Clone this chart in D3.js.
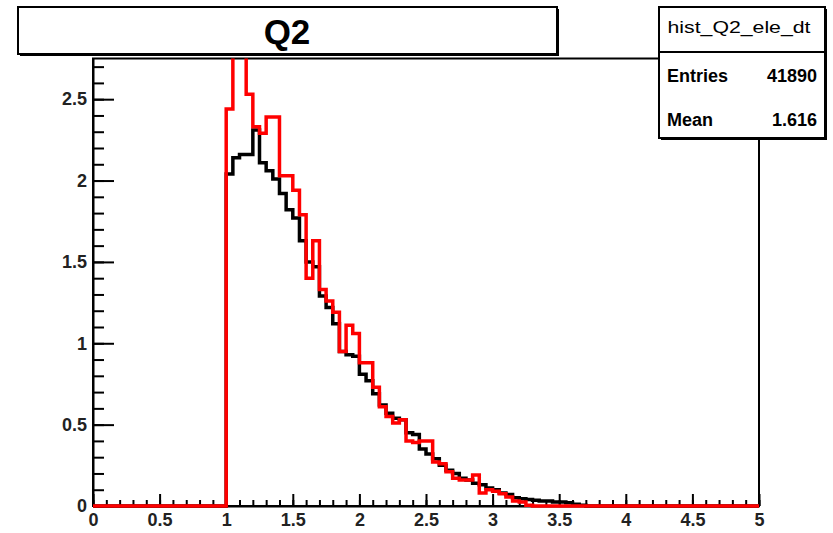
<!DOCTYPE html>
<html>
<head>
<meta charset="utf-8">
<script src="https://d3js.org/d3.v7.min.js"></script>
<style>
  body { margin: 0; background: #fff; }
  svg { display: block; font-family: "Liberation Sans", Arial, sans-serif; }
</style>
</head>
<body>
<div id="chart"></div>
<script>
// histogram Q2, bins of 0.05 from 0 to 5, non-zero part starts at 1.0
const xMin = 0, xMax = 5, binWidth = 0.05, firstBin = 1.0;

const blackCounts = [
  2.04, 2.14, 2.16, 2.16, 2.31, 2.11, 2.06, 2.01, 1.92, 1.82,
  1.77, 1.63, 1.50, 1.47, 1.29, 1.22, 1.12, 0.95, 0.93, 0.92,
  0.81, 0.77, 0.69, 0.62, 0.57, 0.54, 0.53, 0.45, 0.44, 0.35,
  0.32, 0.29, 0.25, 0.22, 0.20, 0.17, 0.16, 0.14, 0.13, 0.11,
  0.10, 0.08, 0.07, 0.05, 0.045, 0.04, 0.035, 0.03, 0.03, 0.025,
  0.025, 0.02, 0.01, 0.005
];
const redCounts = [
  2.44, 2.95, 2.90, 2.53, 2.33, 2.29, 2.39, 2.39, 2.03, 2.03,
  1.94, 1.79, 1.40, 1.63, 1.33, 1.26, 1.19, 0.95, 1.11, 1.06,
  0.88, 0.88, 0.73, 0.61, 0.55, 0.51, 0.53, 0.40, 0.39, 0.40,
  0.40, 0.27, 0.26, 0.21, 0.17, 0.16, 0.16, 0.19, 0.08, 0.10,
  0.09, 0.075, 0.055, 0.03, 0.025, 0.005
];

const xTicks = [0, 0.5, 1, 1.5, 2, 2.5, 3, 3.5, 4, 4.5, 5];
const xTickLabels = ["0", "0.5", "1", "1.5", "2", "2.5", "3", "3.5", "4", "4.5", "5"];
const yTicks = [0, 0.5, 1, 1.5, 2, 2.5];
const yTickLabels = ["0", "0.5", "1", "1.5", "2", "2.5"];
const yMax = 2.75;

const titleText = "Q2";
const statsName = "hist_Q2_ele_dt";
const statsRows = [["Entries", "41890"], ["Mean", "1.616"]];

const W = 833, H = 533;
const padL = 93, padR = 759, padT = 58.5, padB = 506;

const svg = d3.select("#chart").append("svg")
  .attr("width", W).attr("height", H);

const x = d3.scaleLinear().domain([xMin, xMax]).range([padL, padR]);
const y = d3.scaleLinear().domain([0, yMax]).range([padB, padT]);

// full step outline from xMin to xMax
function steps(counts) {
  const n = Math.round((xMax - xMin) / binWidth);
  const start = Math.round((firstBin - xMin) / binWidth);
  const pts = [];
  for (let i = 0; i < n; i++) {
    const j = i - start;
    const v = (j >= 0 && j < counts.length) ? counts[j] : 0;
    pts.push([xMin + i * binWidth, v]);
  }
  pts.push([xMax, pts[pts.length - 1][1]]);
  return pts;
}

svg.append("clipPath").attr("id", "plotclip")
  .append("rect")
  .attr("x", padL - 2).attr("y", padT)
  .attr("width", padR - padL + 4).attr("height", padB - padT + 3);

const line = d3.line()
  .x(d => x(d[0]))
  .y(d => y(d[1]))
  .curve(d3.curveStepAfter);

// frame
svg.append("rect")
  .attr("x", padL).attr("y", padT)
  .attr("width", padR - padL).attr("height", padB - padT)
  .attr("fill", "none").attr("stroke", "#000").attr("stroke-width", 2);

// minor + major ticks
svg.append("g")
  .attr("transform", `translate(${padL},0)`)
  .call(d3.axisLeft(y).tickValues(d3.range(0, 28).map(i => i / 10)).tickSize(-11).tickSizeOuter(0).tickFormat(""))
  .call(g => g.select(".domain").remove())
  .selectAll("line").attr("stroke-width", 2);

svg.append("g")
  .attr("transform", `translate(${padL},0)`)
  .call(d3.axisLeft(y).tickValues(yTicks).tickSize(-21).tickSizeOuter(0).tickPadding(6)
    .tickFormat((d, i) => yTickLabels[i]))
  .call(g => g.select(".domain").attr("stroke-width", 2))
  .call(g => g.selectAll("line").attr("stroke-width", 2))
  .call(g => g.selectAll("text").attr("font-size", 18).attr("font-weight", "bold").attr("fill", "#222")
    .attr("font-family", "Liberation Sans, Arial, sans-serif"));

svg.append("g")
  .attr("transform", `translate(0,${padB})`)
  .call(d3.axisBottom(x).tickValues(d3.range(0, 51).map(i => i / 10)).tickSize(-6).tickSizeOuter(0).tickFormat(""))
  .call(g => g.select(".domain").remove())
  .selectAll("line").attr("stroke-width", 2);

svg.append("g")
  .attr("transform", `translate(0,${padB})`)
  .call(d3.axisBottom(x).tickValues(xTicks).tickSize(-12).tickSizeOuter(0).tickPadding(7)
    .tickFormat((d, i) => xTickLabels[i]))
  .call(g => g.select(".domain").attr("stroke-width", 2))
  .call(g => g.selectAll("line").attr("stroke-width", 2))
  .call(g => g.selectAll("text").attr("font-size", 18).attr("font-weight", "bold").attr("fill", "#222")
    .attr("font-family", "Liberation Sans, Arial, sans-serif"));

// histograms
const plot = svg.append("g").attr("clip-path", "url(#plotclip)");
plot.append("path")
  .attr("d", line(steps(blackCounts)))
  .attr("fill", "none").attr("stroke", "#000").attr("stroke-width", 3.5);
plot.append("path")
  .attr("d", line(steps(redCounts)))
  .attr("fill", "none").attr("stroke", "#ff0000").attr("stroke-width", 3.5);

// boxes with a small shadow on the right and bottom
function box(x0, y0, x1, y1) {
  svg.append("rect").attr("x", x0 + 2).attr("y", y0 + 2)
    .attr("width", x1 - x0).attr("height", y1 - y0).attr("fill", "#000");
  svg.append("rect").attr("x", x0).attr("y", y0)
    .attr("width", x1 - x0).attr("height", y1 - y0)
    .attr("fill", "#fff").attr("stroke", "#000").attr("stroke-width", 2);
}

// title
box(18, 7, 557, 54);
svg.append("text")
  .attr("x", 287).attr("y", 44)
  .attr("text-anchor", "middle")
  .attr("font-size", 35).attr("font-weight", "bold")
  .text(titleText);

// stats box
box(659, 7, 825, 138);
svg.append("line").attr("x1", 659).attr("x2", 825).attr("y1", 52).attr("y2", 52)
  .attr("stroke", "#000").attr("stroke-width", 2);
svg.append("text")
  .attr("x", 739).attr("y", 33).attr("text-anchor", "middle")
  .attr("font-size", 17).attr("textLength", 143).attr("lengthAdjust", "spacingAndGlyphs")
  .text(statsName);
statsRows.forEach((r, i) => {
  const yy = 82 + i * 44;
  svg.append("text").attr("x", 667).attr("y", yy)
    .attr("font-size", 18).attr("font-weight", "bold").text(r[0]);
  svg.append("text").attr("x", 817).attr("y", yy).attr("text-anchor", "end")
    .attr("font-size", 18).attr("font-weight", "bold").text(r[1]);
});
</script>
</body>
</html>
